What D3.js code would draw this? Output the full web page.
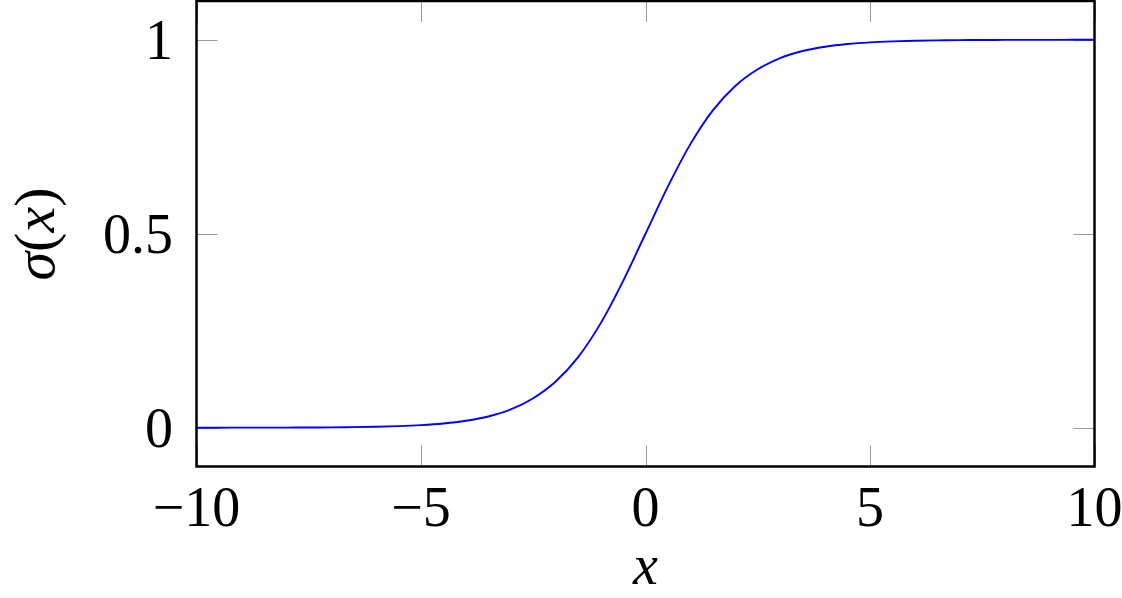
<!DOCTYPE html>
<html><head><meta charset="utf-8">
<script src="https://cdn.jsdelivr.net/npm/d3@7"></script>
<style>html,body{margin:0;padding:0;background:#fff;}svg{display:block;}</style>
</head><body>
<svg id="c" width="1122" height="598"></svg>
<script>
// Data
const xValues = [-10,-9.5,-9,-8.5,-8,-7.5,-7,-6.5,-6,-5.5,-5,-4.5,-4,-3.5,-3,-2.5,-2,-1.5,-1,-0.5,0,
  0.5,1,1.5,2,2.5,3,3.5,4,4.5,5,5.5,6,6.5,7,7.5,8,8.5,9,9.5,10];
const yValues = [0.00005,0.00007,0.00012,0.0002,0.00034,0.00055,0.0009,0.0015,0.0025,0.0041,0.0067,0.011,0.018,0.029,0.047,0.076,0.119,0.182,0.269,0.378,0.5,
  0.622,0.731,0.818,0.881,0.924,0.953,0.971,0.982,0.989,0.9933,0.9959,0.9975,0.9985,0.9991,0.99945,0.99966,0.9998,0.99988,0.99993,0.99995];
const xTicks = [-10,-5,0,5,10];
const xTickLabels = ["\u221210","\u22125","0","5","10"];
const yTicks = [0,0.5,1];
const yTickLabels = ["0","0.5","1"];
const xLabel = "x";

const svg = d3.select("#c");
const L = 196.5, R = 1094.5, T = 1, B = 466.5;
const x = d3.scaleLinear().domain([-10,10]).range([L,R]);
const y = d3.scaleLinear().domain([-0.1,1.1]).range([B,T]);
const font = "'Liberation Serif','DejaVu Serif',serif";

// ticks (inside, all four sides)
const tl = 21;
const g = svg.append("g").attr("stroke","#999").attr("stroke-width",1);
xTicks.forEach(v=>{
  const px = Math.round(x(v))+0.5;
  g.append("line").attr("x1",px).attr("x2",px).attr("y1",B).attr("y2",B-tl);
  g.append("line").attr("x1",px).attr("x2",px).attr("y1",T).attr("y2",T+tl);
});
yTicks.forEach(v=>{
  const py = Math.round(y(v))+0.5;
  g.append("line").attr("x1",L).attr("x2",L+tl).attr("y1",py).attr("y2",py);
  g.append("line").attr("x1",R).attr("x2",R-tl).attr("y1",py).attr("y2",py);
});

// curve
const line = d3.line().x((d,i)=>x(xValues[i])).y(d=>y(d)).curve(d3.curveMonotoneX);
svg.append("path").attr("d",line(yValues)).attr("fill","none")
  .attr("stroke","#0000ff").attr("stroke-width",1.9);

// frame
svg.append("rect").attr("x",L).attr("y",T).attr("width",R-L).attr("height",B-T)
  .attr("fill","none").attr("stroke","#000").attr("stroke-width",2.5);

// tick labels
xTicks.forEach((v,i)=>{
  svg.append("text").attr("x",x(v)).attr("y",526).attr("text-anchor","middle")
    .attr("font-family",font).attr("font-size",56).text(xTickLabels[i]);
});
yTicks.forEach((v,i)=>{
  svg.append("text").attr("x",173).attr("y",y(v)).attr("dy","0.35em").attr("text-anchor","end")
    .attr("font-family",font).attr("font-size",56).text(yTickLabels[i]);
});

// axis labels
svg.append("text").attr("x",x(0)).attr("y",584).attr("text-anchor","middle")
  .attr("font-family",font).attr("font-style","italic").attr("font-size",56).text(xLabel);
const yl = svg.append("text").attr("transform","translate(54,234) rotate(-90)")
  .attr("text-anchor","middle").attr("font-family",font).attr("font-size",58);
yl.append("tspan").attr("font-style","italic").text("\u03c3");
yl.append("tspan").text("(");
yl.append("tspan").attr("font-style","italic").text("x");
yl.append("tspan").text(")");
</script>
</body></html>
